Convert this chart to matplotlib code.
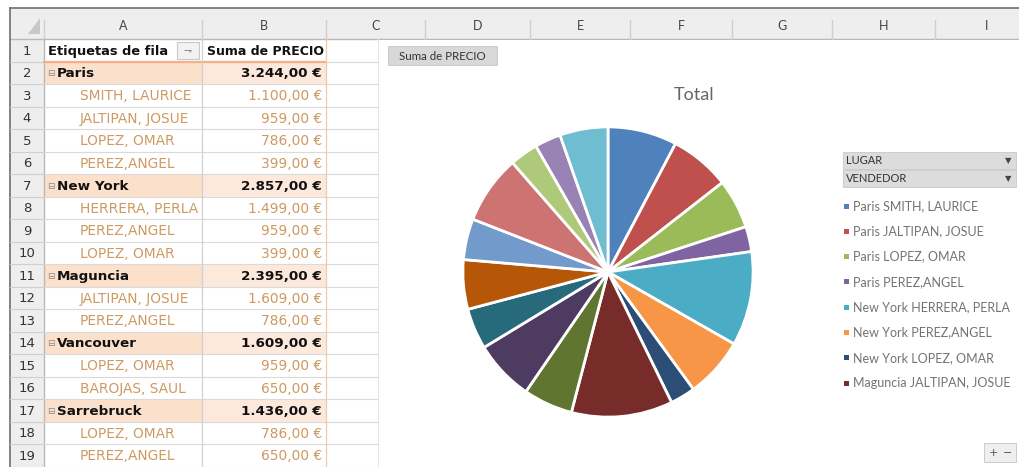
import matplotlib
matplotlib.use("Agg")
import matplotlib.pyplot as plt
from matplotlib.patches import Rectangle, Polygon

# ---------------- data ----------------
row_lugar = ["Paris", "Paris", "Paris", "Paris",
             "New York", "New York", "New York",
             "Maguncia", "Maguncia",
             "Vancouver", "Vancouver",
             "Sarrebruck", "Sarrebruck"]
row_vendedor = ["SMITH, LAURICE", "JALTIPAN, JOSUE", "LOPEZ, OMAR", "PEREZ,ANGEL",
                "HERRERA, PERLA", "PEREZ,ANGEL", "LOPEZ, OMAR",
                "JALTIPAN, JOSUE", "PEREZ,ANGEL",
                "LOPEZ, OMAR", "BAROJAS, SAUL",
                "LOPEZ, OMAR", "PEREZ,ANGEL"]
row_precio = [1100, 959, 786, 399,
              1499, 959, 399,
              1609, 786,
              959, 650,
              786, 650]
# slices for rows below the visible part of the sheet (estimated from the pie)
extra_labels = ["Otros 1", "Otros 2", "Otros 3", "Otros 4"]
extra_precio = [1090, 450, 415, 765]

column_letters = ["A", "B", "C", "D", "E", "F", "G", "H", "I"]
legend_count = 8

pie_colors = ["#4F81BD", "#C0504D", "#9BBB59", "#8064A2", "#4BACC6", "#F79646",
              "#2C4D75", "#772C2A", "#5F7530", "#4D3B62", "#276A7C", "#B65708",
              "#729ACA", "#CD7371", "#AFC97A", "#9983B5", "#6FBDD1"]

plt.rcParams['font.family'] = ['DejaVu Sans']
SHEET = ['DejaVu Sans']
UI = ['Lato', 'DejaVu Sans']


def fmt(v):
    s = f"{v:,.2f}"
    return s.replace(",", "X").replace(".", ",").replace("X", ".") + " €"


W, H = 1020, 467
fig = plt.figure(figsize=(10.2, 4.67), dpi=100)
bg = fig.add_axes([0, 0, 1, 1])
bg.set_xlim(0, W)
bg.set_ylim(H, 0)
bg.axis('off')

col_edges = [44, 202, 326, 425, 530, 630, 732, 832, 935, 1040]
top, hdr_bot = 8, 39
row_h = 22.5
n_rows = 19
chart_x = 378

# column header band
bg.add_patch(Rectangle((10, top), W - 10, hdr_bot - top, facecolor="#eeeeee", edgecolor="none"))
bg.plot([10, W], [top, top], color="#6e6e6e", lw=1.2)
bg.plot([10, W], [hdr_bot, hdr_bot], color="#b8b8b8", lw=1)
for i, letter in enumerate(column_letters):
    x0, x1 = col_edges[i], col_edges[i + 1]
    bg.plot([x1, x1], [top + 12, hdr_bot], color="#cfcfcf", lw=1)
    bg.text((x0 + x1) / 2 if x1 < W else 987, (top + hdr_bot) / 2 + 2, letter,
            ha="center", va="center", fontsize=9, color="#444444", family=UI)
bg.plot([44, 44], [top + 12, hdr_bot], color="#cfcfcf", lw=1)
bg.add_patch(Polygon([[40, 18], [40, 34], [28, 34]], closed=True, facecolor="#c8c8c8", edgecolor="none"))

# row header band
bg.add_patch(Rectangle((10, hdr_bot), 34, H - hdr_bot, facecolor="#eeeeee", edgecolor="none"))
bg.plot([10, 10], [top, H], color="#6e6e6e", lw=1.2)
bg.plot([44, 44], [hdr_bot, H], color="#b8b8b8", lw=1)

# build sheet rows from data
sheet_rows = [("hdr", "Etiquetas de fila", "Suma de PRECIO")]
seen = []
for lg in row_lugar:
    if lg not in seen:
        seen.append(lg)
for lg in seen:
    total = sum(p for l, p in zip(row_lugar, row_precio) if l == lg)
    sheet_rows.append(("city", lg, fmt(total)))
    for l, v, p in zip(row_lugar, row_vendedor, row_precio):
        if l == lg:
            sheet_rows.append(("sub", v, fmt(p)))
sheet_rows = sheet_rows[:n_rows]

for r, (kind, a, b) in enumerate(sheet_rows):
    y0 = hdr_bot + r * row_h
    y1 = y0 + row_h
    yc = (y0 + y1) / 2 + 1
    bg.text(27, yc, str(r + 1), ha="center", va="center", fontsize=9.5, color="#333333", family=SHEET)
    bg.plot([10, 44], [y1, y1], color="#cfcfcf", lw=0.8)
    if kind == "city":
        bg.add_patch(Rectangle((45, y0 + 1), 157, row_h - 1, facecolor="#fbe0cc", edgecolor="none"))
        bg.add_patch(Rectangle((202, y0 + 1), 124, row_h - 1, facecolor="#fce9dc", edgecolor="none"))
    bg.plot([44, chart_x], [y1, y1], color="#dadada", lw=0.8)
    if kind == "hdr":
        bg.text(48, yc, a, ha="left", va="center", fontsize=9.4, fontweight="bold", color="#111111",
                family=SHEET)
        bg.add_patch(Rectangle((177, y0 + 3), 22, row_h - 6, facecolor="#f2f2f2", edgecolor="#c8c8c8", lw=0.8))
        bg.text(188, yc, "⇁", ha="center", va="center", fontsize=7, color="#777777", family=SHEET)
        bg.text(324, yc, b, ha="right", va="center", fontsize=9, fontweight="bold", color="#111111",
                family=SHEET)
        bg.plot([44, 326], [y1, y1], color="#f4b183", lw=1.6)
    elif kind == "city":
        bg.text(51, yc, "⊟", ha="center", va="center", fontsize=6.5, color="#888888", family=SHEET)
        bg.text(57, yc, a, ha="left", va="center", fontsize=9.7, fontweight="bold", color="#111111",
                family=SHEET)
        bg.text(322, yc, b, ha="right", va="center", fontsize=9.7, fontweight="bold", color="#111111",
                family=SHEET)
    else:
        bg.text(80, yc, a, ha="left", va="center", fontsize=9.9, color="#cc9a62", family=SHEET)
        bg.text(322, yc, b, ha="right", va="center", fontsize=9.9, color="#cc9a62", family=SHEET)

bg.plot([202, 202], [hdr_bot, H], color="#d0d0d0", lw=0.9)
bg.plot([326, 326], [hdr_bot, H], color="#f1c9a8", lw=0.9)

# chart area
bg.add_patch(Rectangle((chart_x, hdr_bot + 0.5), W - chart_x, H - hdr_bot, facecolor="white",
                       edgecolor="none", zorder=3))
bg.plot([chart_x, chart_x], [hdr_bot, H], color="#e6e6e6", lw=0.8, zorder=4)
bg.add_patch(Rectangle((388, 46), 109, 19, facecolor="#d8d8d8", edgecolor="#c4c4c4", lw=0.6, zorder=4))
bg.text(442.5, 56, "Suma de PRECIO", ha="center", va="center", fontsize=8.3, color="#333333", zorder=5,
        family=UI)
bg.text(694, 95, "Total", ha="center", va="center", fontsize=13, color="#666666", zorder=5, family=UI)

# legend field buttons
for yb, label in [(152, "LUGAR"), (170, "VENDEDOR")]:
    bg.add_patch(Rectangle((843, yb), 173, 17, facecolor="#dcdcdc", edgecolor="#c8c8c8", lw=0.6, zorder=4))
    bg.text(846, yb + 9, label, ha="left", va="center", fontsize=8, color="#333333", zorder=5, family=UI)
    bg.text(1008, yb + 9, "▼", ha="center", va="center", fontsize=6, color="#444444", zorder=5,
            family=SHEET)

# pie
all_labels = [f"{l} {v}" for l, v in zip(row_lugar, row_vendedor)] + extra_labels
all_values = row_precio + extra_precio

for i in range(legend_count):
    yl = 206 + i * 25.3
    bg.add_patch(Rectangle((844, yl - 2.5), 5, 5, facecolor=pie_colors[i], edgecolor="none", zorder=5))
    bg.text(853, yl, all_labels[i], ha="left", va="center", fontsize=9, color="#737373", zorder=5,
            family=UI)

# zoom buttons bottom-right
bg.add_patch(Rectangle((984, 443), 32, 19, facecolor="#efefef", edgecolor="#c4c4c4", lw=0.6, zorder=4))
bg.text(993, 453, "+", ha="center", va="center", fontsize=8, color="#555555", zorder=5)
bg.text(1008, 453, "−", ha="center", va="center", fontsize=8, color="#555555", zorder=5)

cx, cy, rad = 608, 272, 148
pax = fig.add_axes([(cx - rad) / W, (H - cy - rad) / H, 2 * rad / W, 2 * rad / H])
pax.pie(all_values, colors=pie_colors, startangle=90, counterclock=False,
        wedgeprops=dict(edgecolor="white", linewidth=2.0), radius=1.0)
pax.set_xlim(-1.02, 1.02)
pax.set_ylim(-1.02, 1.02)
pax.set_aspect("auto")
pax.axis("off")

fig.savefig("out.png", dpi=100)
